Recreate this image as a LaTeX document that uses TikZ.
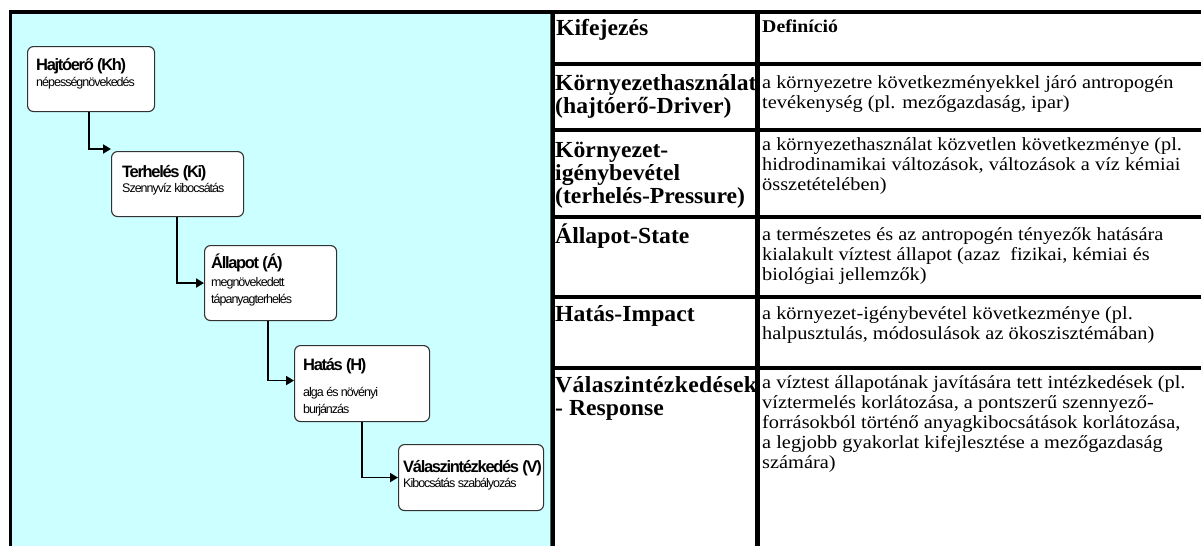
\documentclass[tikz,border=0pt]{standalone}
\usepackage{fontspec}
\setmainfont{Liberation Serif}
\newfontfamily\headfont[FakeStretch=1.03]{Liberation Serif}
\newfontfamily\deffont[FakeStretch=1.1]{Liberation Serif}
\newfontfamily\boxfont[LetterSpace=-8]{Liberation Sans}
\usetikzlibrary{arrows.meta,calc}
\definecolor{panelcyan}{RGB}{204,255,255}
\definecolor{boxedge}{RGB}{50,50,50}
\definecolor{seam}{RGB}{60,110,110}
\tikzset{
  stage/.style={draw=boxedge, line width=1.1pt, fill=white, rounded corners=6pt,
                anchor=north west, inner sep=0pt},
  flow/.style={line width=1.8pt, -{Triangle[length=8pt,width=9pt]}},
  rule/.style={line width=4pt},
  ttl/.style={anchor=base west, inner sep=0pt, font=\boxfont\bfseries\fontsize{16.5}{16.5}\selectfont},
  subttl/.style={anchor=base west, inner sep=0pt, font=\boxfont\fontsize{12.5}{12.5}\selectfont},
  term/.style={anchor=base west, inner sep=0pt, font=\headfont\bfseries\fontsize{23}{23}\selectfont},
  defn/.style={anchor=base west, inner sep=0pt, font=\deffont\fontsize{18.5}{18.5}\selectfont},
  defhead/.style={anchor=base west, inner sep=0pt, font=\deffont\bfseries\fontsize{18}{18}\selectfont},
}
\begin{document}
\begin{tikzpicture}[x=1pt,y=-1pt]
\useasboundingbox (0,0) rectangle (1201,546);
\clip (0,0) rectangle (1201,546);

% turquoise panel holding the DPSIR chain
\fill[panelcyan] (11,12) rectangle (551,546);
\draw[seam, line width=1pt] (550.5,12) -- (550.5,546);
\draw[line width=3pt] (10.5,10) -- (10.5,546);

% table rules
\draw[rule] (9,12) -- (1201,12);
\draw[rule] (553,10) -- (553,546);
\draw[line width=4.5pt] (757.5,10) -- (757.5,546);
\foreach \yy in {64,130,217,297,368} \draw[rule] (551,\yy) -- (1201,\yy);

% chain of stages
\node[stage, minimum width=127pt, minimum height=65pt] (kh) at (27,46) {};
\node[stage, minimum width=132pt, minimum height=65pt] (ki) at (111,151) {};
\node[stage, minimum width=132pt, minimum height=75pt] (al) at (204,245) {};
\node[stage, minimum width=135pt, minimum height=76pt] (ha) at (294,345) {};
\node[stage, minimum width=145pt, minimum height=66pt] (va) at (398,444) {};

\draw[flow] ($(kh.south west)+(62,0)$) |- ($(ki.north west)+(0,-2)$);
\draw[flow] ($(ki.south west)+(66,0)$) |- (al.west);
\draw[flow] ($(al.south west)+(64,0)$) |- ($(ha.west)+(0,-3)$);
\draw[flow] ($(ha.south west)+(68,0)$) |- (va.west);

\node[ttl] (khT) at (36,70) {Hajtóerő (Kh)};
\node[subttl] (khS) at (36,86) {népességnövekedés};
\node[ttl] (kiT) at (122,177) {Terhelés (Ki)};
\node[subttl] (kiS) at (122,192) {Szennyvíz kibocsátás};
\node[ttl] (alT) at (211,268) {Állapot (Á)};
\node[subttl] (alS1) at (211,286) {megnövekedett};
\node[subttl] (alS2) at (211,303) {tápanyagterhelés};
\node[ttl] (haT) at (303,370) {Hatás (H)};
\node[subttl] (haS1) at (303,396) {alga és növényi};
\node[subttl] (haS2) at (303,413) {burjánzás};
\node[ttl] (vaT) at (403,472) {Válaszintézkedés (V)};
\node[subttl] (vaS) at (403,487) {Kibocsátás szabályozás};

% table header
\node[term] (h0) at (556,35) {Kifejezés};
\node[defhead] (h1) at (762,32) {Definíció};

% terms
\node[term] (t1a) at (555,90) {Környezethasználat};
\node[term] (t1b) at (555,113) {(hajtóerő-Driver)};
\node[term] (t2a) at (555,157) {Környezet-};
\node[term] (t2b) at (555,180) {igénybevétel};
\node[term] (t2c) at (555,203) {(terhelés-Pressure)};
\node[term] (t3a) at (555,243) {Állapot-State};
\node[term] (t4a) at (555,321) {Hatás-Impact};
\node[term] (t5a) at (555,392) {\addfontfeatures{LetterSpace=1.5}Válaszintézkedések};
\node[term] (t5b) at (555,415) {- Response};

% definitions
\node[defn] (d1a) at (762,88) {a környezetre következményekkel járó antropogén};
\node[defn] (d1b) at (762,108) {tevékenység (pl. mezőgazdaság, ipar)};
\node[defn] (d2a) at (762,150) {a környezethasználat közvetlen következménye (pl.};
\node[defn] (d2b) at (762,170) {hidrodinamikai változások, változások a víz kémiai};
\node[defn] (d2c) at (762,190) {összetételében)};
\node[defn] (d3a) at (762,240) {a természetes és az antropogén tényezők hatására};
\node[defn] (d3b) at (762,260) {kialakult víztest állapot (azaz\ \ fizikai, kémiai és};
\node[defn] (d3c) at (762,280) {biológiai jellemzők)};
\node[defn] (d4a) at (762,319) {a környezet-igénybevétel következménye (pl.};
\node[defn] (d4b) at (762,339) {halpusztulás, módosulások az ökoszisztémában)};
\node[defn] (d5a) at (762,388) {a víztest állapotának javítására tett intézkedések (pl.};
\node[defn] (d5b) at (762,408) {víztermelés korlátozása, a pontszerű szennyező-};
\node[defn] (d5c) at (762,428) {forrásokból történő anyagkibocsátások korlátozása,};
\node[defn] (d5d) at (762,448) {a legjobb gyakorlat kifejlesztése a mezőgazdaság};
\node[defn] (d5e) at (762,468) {számára)};
\end{tikzpicture}
\end{document}
